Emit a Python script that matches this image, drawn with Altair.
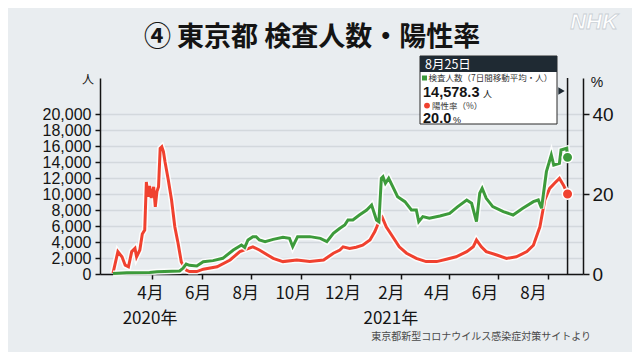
import altair as alt
import pandas as pd

# ---------------- data ----------------
green_dates = [
    "2020-02-13", "2020-03-01", "2020-03-29", "2020-04-07", "2020-05-05", "2020-05-09",
    "2020-05-13", "2020-05-17", "2020-05-26", "2020-06-03", "2020-06-15", "2020-06-27",
    "2020-07-10", "2020-07-20", "2020-07-24", "2020-07-28", "2020-08-03", "2020-08-07",
    "2020-08-11", "2020-08-18", "2020-08-28", "2020-09-09", "2020-09-17", "2020-09-21",
    "2020-09-27", "2020-10-12", "2020-10-25", "2020-11-02", "2020-11-10", "2020-11-18",
    "2020-11-24", "2020-11-28", "2020-12-04", "2020-12-12", "2020-12-21", "2020-12-27",
    "2020-12-29", "2021-01-02", "2021-01-05", "2021-01-08", "2021-01-10", "2021-01-13",
    "2021-01-17", "2021-01-22", "2021-01-28", "2021-02-06", "2021-02-14", "2021-02-20",
    "2021-02-23", "2021-02-28", "2021-03-08", "2021-03-21", "2021-04-02", "2021-04-12",
    "2021-04-23", "2021-04-29", "2021-05-05", "2021-05-09", "2021-05-12", "2021-05-17",
    "2021-05-25", "2021-06-07", "2021-06-19", "2021-07-01", "2021-07-14", "2021-07-20",
    "2021-07-24", "2021-07-30", "2021-08-05", "2021-08-08", "2021-08-15", "2021-08-17",
    "2021-08-24", "2021-08-25",
]
green_values = [
    50, 150, 200, 290, 375, 710,
    1250, 1090, 1000, 1540, 1670, 1960,
    3000, 3625, 3330, 4250, 4670, 4670,
    4250, 4040, 4330, 4580, 4460, 3420,
    4670, 4670, 4460, 4040, 5080, 5710,
    6125, 6750, 6750, 7375, 8000, 8625,
    8000, 6750, 6540, 11960, 12170, 11340,
    11960, 10920, 9670, 9040, 8000, 8000,
    6540, 7170, 6960, 7250, 7580, 8420,
    9250, 8840, 6540, 10090, 10710, 9460,
    8420, 7790, 7375, 8210, 9040, 9250,
    8210, 12790, 14875, 13625, 13840, 15500,
    15710, 14578.3,
]

red_dates = [
    "2020-02-13", "2020-02-19", "2020-02-24", "2020-02-28", "2020-03-03", "2020-03-07",
    "2020-03-11", "2020-03-13", "2020-03-17", "2020-03-20", "2020-03-23", "2020-03-25",
    "2020-03-27", "2020-03-29", "2020-03-31", "2020-04-03", "2020-04-05", "2020-04-07",
    "2020-04-09", "2020-04-11", "2020-04-13", "2020-04-15", "2020-04-17", "2020-04-21",
    "2020-04-25", "2020-04-29", "2020-05-03", "2020-05-07", "2020-05-13", "2020-05-17",
    "2020-05-26", "2020-06-03", "2020-06-20", "2020-07-06", "2020-07-18", "2020-08-03",
    "2020-08-11", "2020-08-28", "2020-09-09", "2020-09-26", "2020-10-12", "2020-10-29",
    "2020-11-10", "2020-11-18", "2020-11-22", "2020-11-30", "2020-12-08", "2020-12-16",
    "2020-12-25", "2020-12-31", "2021-01-06", "2021-01-09", "2021-01-14", "2021-01-22",
    "2021-01-30", "2021-02-08", "2021-02-20", "2021-03-04", "2021-03-17", "2021-03-29",
    "2021-04-10", "2021-04-23", "2021-05-01", "2021-05-05", "2021-05-11", "2021-05-17",
    "2021-05-30", "2021-06-11", "2021-06-23", "2021-07-06", "2021-07-14", "2021-07-22",
    "2021-07-28", "2021-08-03", "2021-08-09", "2021-08-15", "2021-08-20", "2021-08-25",
]
red_values = [
    0.2, 5.6, 4.3, 2.2, 1.8, 5.6,
    6.4, 4.3, 6.0, 10.0, 11.0, 23.0,
    19.3, 22.0, 19.0, 21.8, 16.8, 20.6,
    21.8, 31.4, 31.8, 30.6, 28.0, 23.5,
    18.5, 11.8, 7.7, 3.0, 1.0, 0.6,
    0.6, 1.2, 1.8, 3.5, 5.6, 6.8,
    6.0, 3.9, 3.1, 3.5, 3.1, 3.5,
    5.2, 6.0, 6.8, 6.4, 6.7, 7.2,
    8.5, 10.6, 13.5, 14.2, 11.8, 9.3,
    6.8, 5.2, 3.9, 3.1, 3.1, 3.7,
    4.3, 5.6, 6.8, 8.5, 6.8, 5.6,
    4.75, 3.9, 4.3, 5.6, 7.2, 11.8,
    18.5, 21.4, 22.7, 23.9, 22.2, 20.0,
]

month_ticks = [(2020, 4), (2020, 6), (2020, 8), (2020, 10), (2020, 12),
               (2021, 2), (2021, 4), (2021, 6), (2021, 8)]
year_labels = ["2020年", "2021年"]
year_label_dates = ["2020-04-01", "2021-02-01"]
left_ticks = [0, 2000, 4000, 6000, 8000, 10000, 12000, 14000, 16000, 18000, 20000]
right_ticks = [0, 20, 40]

title_text = "④ 東京都 検査人数・陽性率"
source_text = "東京都新型コロナウイルス感染症対策サイトより"
green_label = "検査人数（7日間移動平均・人）"
red_label = "陽性率（%）"

# ---------------- styling ----------------
JP = "Noto Sans CJK JP"
NUM = "Liberation Sans"
BG = "#e9edf0"
GREEN = "#3d9b3b"
RED = "#f0412f"
INK = "#141414"
W, H = 483, 196

green_df = pd.DataFrame({"date": green_dates, "tests": green_values})
red_df = pd.DataFrame({"date": red_dates, "rate": red_values})
green_end = green_df.tail(1)
red_end = red_df.tail(1)

x_scale = alt.Scale(
    type="utc",
    domain=[alt.DateTime(year=2020, month=1, date=28, utc=True),
            alt.DateTime(year=2021, month=9, date=13, utc=True)],
)
label_offset = {
    "condition": [
        {"test": "datum.value < utc(2020,4,15)", "value": -2},
        {"test": "datum.value < utc(2020,6,15)", "value": -4},
        {"test": "datum.value < utc(2020,8,15)", "value": -6},
        {"test": "datum.value < utc(2021,0,15)", "value": -8},
        {"test": "datum.value < utc(2021,2,15)", "value": -10},
        {"test": "datum.value < utc(2021,4,15)", "value": -12},
        {"test": "datum.value < utc(2021,6,15)", "value": -14},
    ],
    "value": -15,
}
x_axis = alt.Axis(
    values=[alt.DateTime(year=y, month=m, date=1, utc=True) for y, m in month_ticks],
    labelExpr="(utcmonth(datum.value)+1) + '月'",
    labelFont=JP, labelFontSize=17, labelColor=INK,
    labelPadding=6, labelOverlap=False, labelFlush=False,
    labelOffset=label_offset,
    tickSize=5, tickColor=INK, tickWidth=1.5,
    domainColor=INK, domainWidth=1.5, grid=False, title=None,
)
x_enc = alt.X("date:T", scale=x_scale, axis=x_axis)

y_left = alt.Y(
    "tests:Q",
    scale=alt.Scale(domain=[0, 24500], nice=False, zero=True),
    axis=alt.Axis(
        orient="left", values=left_ticks, format=",d", title=None,
        labelFont=NUM, labelFontSize=16, labelColor=INK, labelPadding=4,
        labelOverlap=False, labelFlush=False,
        tickSize=5, tickColor=INK, tickWidth=1.5,
        domainColor=INK, domainWidth=1.5,
        grid=True, gridColor="#d3d8dd", gridWidth=1.5,
    ),
)
y_right = alt.Y(
    "rate:Q",
    scale=alt.Scale(domain=[0, 49], nice=False, zero=True),
    axis=alt.Axis(
        orient="right", values=right_ticks, title=None,
        labelFont=NUM, labelFontSize=19, labelColor=INK, labelPadding=3,
        labelOverlap=False, labelFlush=False,
        tickSize=6, tickColor=INK, tickWidth=1.5,
        domainColor=INK, domainWidth=1.5, grid=False,
    ),
)

# ---------------- series ----------------
g_base = alt.Chart(green_df).encode(x=x_enc, y=y_left)
green_layer = alt.layer(
    g_base.mark_line(color="white", strokeWidth=6, opacity=0.85),
    g_base.mark_line(color=GREEN, strokeWidth=3),
    alt.Chart(green_end).mark_point(filled=True, shape="circle", size=110, color=GREEN,
                                    stroke="white", strokeWidth=1.5, opacity=1)
    .encode(x=x_enc, y=y_left),
)
r_base = alt.Chart(red_df).encode(x=x_enc, y=y_right)
red_layer = alt.layer(
    r_base.mark_line(color="white", strokeWidth=6, opacity=0.85),
    r_base.mark_line(color=RED, strokeWidth=3),
    alt.Chart(red_end).mark_point(filled=True, shape="circle", size=110, color=RED,
                                  stroke="white", strokeWidth=1.5, opacity=1)
    .encode(x=x_enc, y=y_right),
)

marker = alt.Chart(green_end).mark_rule(color=INK, strokeWidth=1.5).encode(
    x=x_enc, y=alt.value(0), y2=alt.value(H)
)

# year labels under the month labels (positioned through the x scale)
year_layers = [
    alt.Chart(pd.DataFrame({"date": [d], "label": [t]})).mark_text(
        font=JP, fontSize=17, color=INK, align="center", baseline="middle", dx=dx
    ).encode(x=x_enc, y=alt.value(H + 45), text="label:N")
    for d, t, dx in zip(year_label_dates, year_labels, [-2, -10])
]

# ---------------- annotations ----------------
dummy = pd.DataFrame({"k": [0]})


def txt(s, x, y, size, color=INK, font=JP, weight="normal", align="left",
        baseline="middle", **kw):
    return alt.Chart(dummy).mark_text(
        text=s, font=font, fontSize=size, fontWeight=weight, color=color,
        align=align, baseline=baseline, **kw
    ).encode(x=alt.value(x), y=alt.value(y))


def box(x1, x2, y1, y2, fill, stroke=None):
    kw = {"fill": fill}
    if stroke:
        kw.update(stroke=stroke, strokeWidth=1)
    return alt.Chart(dummy).mark_rect(**kw).encode(
        x=alt.value(x1), x2=alt.value(x2), y=alt.value(y1), y2=alt.value(y2)
    )


last_date = pd.Timestamp(green_dates[-1])
date_label = f"{last_date.month}月{last_date.day}日"
tests_label = f"{green_values[-1]:,.1f}"
rate_label = f"{red_values[-1]:.1f}"

decor = [
    txt(title_text, 212, -40, 27, weight="bold", align="center"),
    txt("NHK", 494, -56, 22, color="white", font=NUM, weight="bold", align="center",
        fontStyle="italic", stroke="#c9cfd5", strokeWidth=0.8),
    txt("人", -12, 2, 12, align="center"),
    txt("%", 497, 5, 14, font=NUM, align="center"),
    txt(source_text, 491, 259, 10, color="#4a4a4a", align="right"),
    # tooltip box
    box(320, 457, -22, 46, "white", stroke="#2b2b2b"),
    box(320, 457, -22, -6, "#1f2a33"),
    txt(date_label, 325, -13.5, 12.5, color="white"),
    alt.Chart(dummy).mark_square(size=25, color=GREEN, opacity=1).encode(
        x=alt.value(324.5), y=alt.value(0)),
    txt(green_label, 328.5, 0, 8.5, color="#333333"),
    txt(tests_label, 323, 18.5, 14.5, font=NUM, weight="bold", baseline="alphabetic"),
    txt("人", 383, 18.5, 9, baseline="alphabetic"),
    alt.Chart(dummy).mark_circle(size=34, color=RED, opacity=1).encode(
        x=alt.value(327), y=alt.value(27.6)),
    txt(red_label, 332, 27.6, 8.5, color="#333333"),
    txt(rate_label, 323, 45.3, 14.5, font=NUM, weight="bold", baseline="alphabetic"),
    txt("%", 353, 45.3, 9, font=NUM, baseline="alphabetic"),
    alt.Chart(dummy).mark_point(shape="triangle-right", filled=True, size=55,
                                color="#1f2a33", opacity=1).encode(
        x=alt.value(461.5), y=alt.value(13)),
]

chart = alt.layer(
    marker, red_layer, green_layer, *year_layers, *decor
).resolve_scale(y="independent").properties(
    width=W, height=H,
    autosize="none",
    padding={"left": 92, "top": 70, "right": 49, "bottom": 78},
    background=BG,
).configure_view(stroke=None)

chart.save("out.html", embed_options={"renderer": "svg", "actions": False})
